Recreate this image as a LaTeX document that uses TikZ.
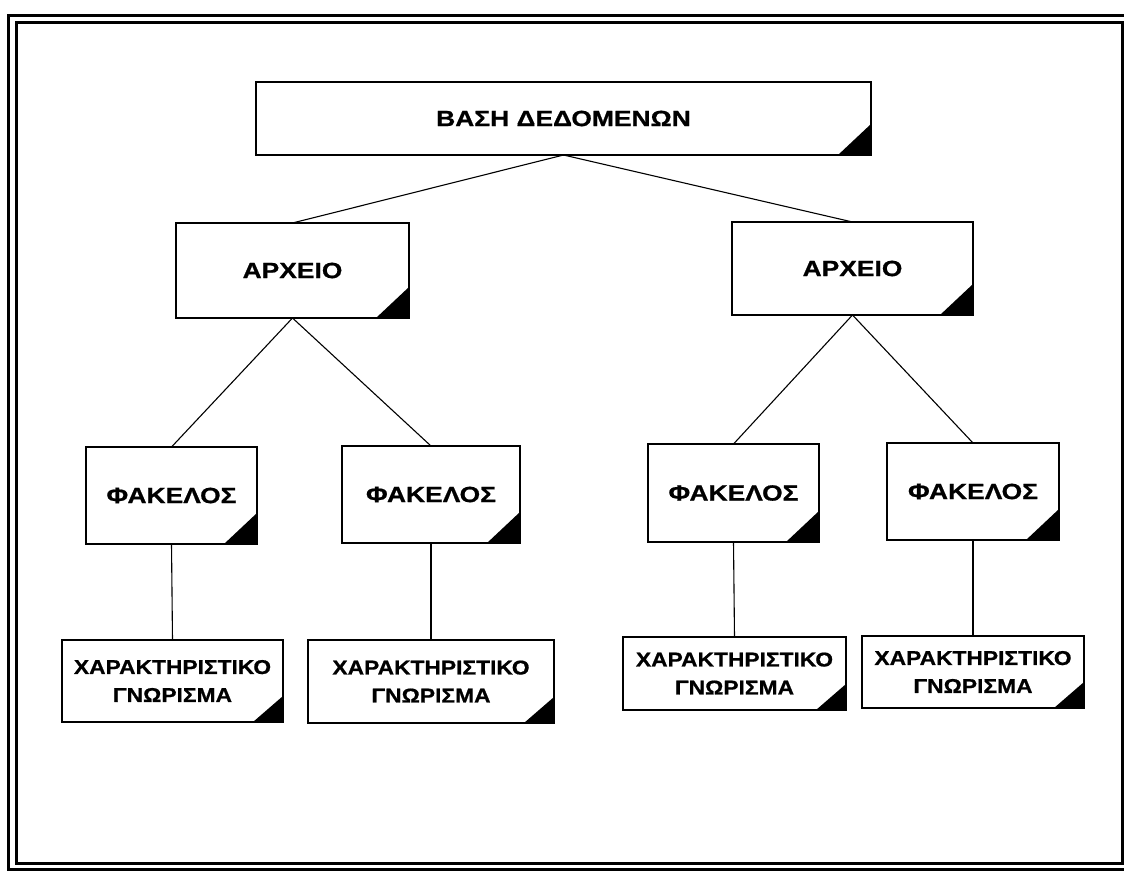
\documentclass[tikz,border=0pt]{standalone}
\usepackage{fontspec}
\newfontfamily\cardfont[FakeStretch=1.2,FakeBold=0.8]{Liberation Sans}
\newfontfamily\attrfont[FakeStretch=1.14,FakeBold=0.8]{Liberation Sans}
\begin{document}
\begin{tikzpicture}[x=1pt,y=-1pt,
        cardbox/.style={draw,line width=1.4pt,inner sep=0pt,outer sep=0pt,
            font=\cardfont\bfseries\fontsize{22}{24}\selectfont},
        attrbox/.style={draw,line width=1.4pt,inner sep=0pt,outer sep=0pt,align=center,
            font=\attrfont\bfseries\fontsize{20}{28}\selectfont},
        link/.style={line width=1.1pt}]
                \useasboundingbox (0,0) rectangle (1124,874);
                \draw[line width=3pt]
                    (8.5,15.5) rectangle (1140,869);
                \draw[line width=3pt]
                    (16.5,22.5) rectangle (1122.5,863.5);
                \node[cardbox,minimum width=615pt,minimum height=73pt] (db) at (563.5,118.5) {ΒΑΣΗ ΔΕΔΟΜΕΝΩΝ};
                \node[cardbox,minimum width=233pt,minimum height=95pt] (a1) at (292.5,270.5) {ΑΡΧΕΙΟ};
                \node[cardbox,minimum width=241pt,minimum height=93pt] (a2) at (852.5,268.5) {ΑΡΧΕΙΟ};
                \node[cardbox,minimum width=171pt,minimum height=97pt] (f1) at (171.5,495.5) {ΦΑΚΕΛΟΣ};
                \node[cardbox,minimum width=178pt,minimum height=97pt] (f2) at (431,494.5) {ΦΑΚΕΛΟΣ};
                \node[cardbox,minimum width=171pt,minimum height=98pt] (f3) at (733.5,493) {ΦΑΚΕΛΟΣ};
                \node[cardbox,minimum width=172pt,minimum height=97pt] (f4) at (973,491.5) {ΦΑΚΕΛΟΣ};
                \node[attrbox,minimum width=221pt,minimum height=82pt] (c1) at (172.5,681) {ΧΑΡΑΚΤΗΡΙΣΤΙΚΟ\\ΓΝΩΡΙΣΜΑ};
                \node[attrbox,minimum width=246pt,minimum height=83pt] (c2) at (431,681.5) {ΧΑΡΑΚΤΗΡΙΣΤΙΚΟ\\ΓΝΩΡΙΣΜΑ};
                \node[attrbox,minimum width=223pt,minimum height=73pt] (c3) at (734.5,673.5) {ΧΑΡΑΚΤΗΡΙΣΤΙΚΟ\\ΓΝΩΡΙΣΜΑ};
                \node[attrbox,minimum width=222pt,minimum height=72pt] (c4) at (973,672) {ΧΑΡΑΚΤΗΡΙΣΤΙΚΟ\\ΓΝΩΡΙΣΜΑ};
                \foreach \p/\c in {db/a1,db/a2,a1/f1,a1/f2,a2/f3,a2/f4,f1/c1,f2/c2,f3/c3,f4/c4}
                    \draw[link] (\p.south) -- (\c.north);
                \foreach \n in {db,a1,a2,f1,f2,f3,f4}
                    \fill (\n.south east) -- ++(-33pt,0pt) -- ++(33pt,31pt) -- cycle;
                \foreach \n in {c1,c2,c3,c4}
                    \fill (\n.south east) -- ++(-30pt,0pt) -- ++(30pt,26pt) -- cycle;
            \end{tikzpicture}
\end{document}
